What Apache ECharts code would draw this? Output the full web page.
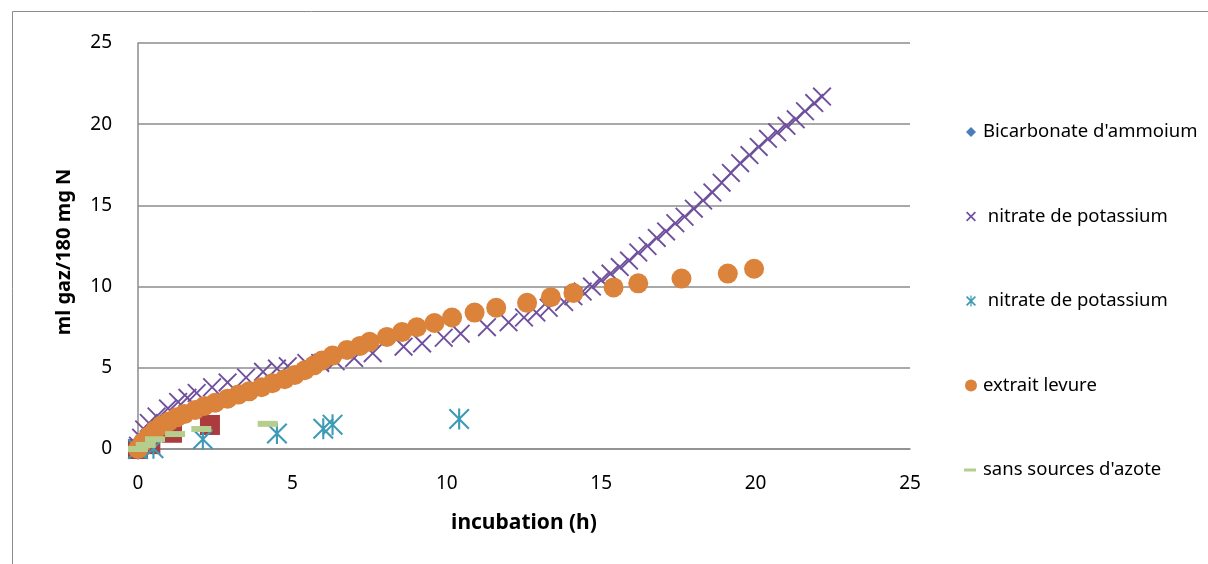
<!DOCTYPE html>
<html>
<head>
<meta charset="utf-8">
<script src="https://cdn.jsdelivr.net/npm/echarts@6/dist/echarts.min.js"></script>
<style>
  html, body { margin: 0; padding: 0; background: #fff; }
  #chart { width: 1208px; height: 564px; }
</style>
</head>
<body>
<div id="chart"></div>
<script>
// [hours, ml gaz] pairs
const bicarbonate = [[0, 0], [0.1, 0.05]];
const redSquares = [[0, 0], [0.4, 0.3], [1.1, 1.0], [2.33, 1.48]];
const nitrate1 = [
  [0, 0.2], [0.1, 0.7], [0.2, 1.2], [0.35, 1.6], [0.6, 2.0], [0.97, 2.5], [1.3, 2.9],
  [1.6, 3.15], [1.9, 3.45], [2.4, 3.8], [2.9, 4.1], [3.5, 4.4], [4.05, 4.75], [4.5, 4.95],
  [4.85, 5.1], [5.45, 5.3], [5.9, 5.3], [6.4, 5.4], [7.0, 5.6], [7.6, 5.9], [8.6, 6.3],
  [9.2, 6.5], [9.9, 6.85], [10.45, 7.1], [11.3, 7.5], [12.0, 7.8], [12.5, 8.1], [12.9, 8.4],
  [13.3, 8.7], [13.8, 9.05], [14.1, 9.4], [14.4, 9.7], [14.7, 10.0], [15.0, 10.4], [15.3, 10.8],
  [15.6, 11.2], [15.9, 11.6], [16.2, 12.1], [16.5, 12.5], [16.8, 13.0], [17.1, 13.4],
  [17.4, 13.9], [17.7, 14.3], [18.0, 14.8], [18.3, 15.3], [18.6, 15.8], [18.9, 16.4],
  [19.2, 17.0], [19.5, 17.6], [19.8, 18.1], [20.1, 18.6], [20.4, 19.1], [20.7, 19.5],
  [21.0, 19.9], [21.3, 20.3], [21.6, 20.8], [21.9, 21.3], [22.15, 21.7]
];
const nitrate2 = [[0, 0], [0.5, 0.05], [2.1, 0.6], [4.5, 0.95], [6.0, 1.25], [6.3, 1.5], [10.4, 1.85]];
const levure = [
  [0, 0], [0.15, 0.4], [0.35, 0.8], [0.55, 1.15], [0.75, 1.45], [1.0, 1.7], [1.25, 1.95],
  [1.5, 2.15], [1.85, 2.4], [2.15, 2.65], [2.5, 2.85], [2.9, 3.1], [3.25, 3.35], [3.6, 3.55],
  [4.0, 3.8], [4.35, 4.05], [4.75, 4.3], [5.08, 4.56], [5.4, 4.85], [5.7, 5.15], [5.96, 5.45],
  [6.3, 5.75], [6.77, 6.1], [7.19, 6.35], [7.5, 6.6], [8.06, 6.9], [8.55, 7.2], [9.03, 7.5],
  [9.6, 7.76], [10.17, 8.1], [10.9, 8.4], [11.6, 8.7], [12.6, 9.0], [13.37, 9.35], [14.1, 9.6],
  [15.4, 9.95], [16.2, 10.2], [17.6, 10.5], [19.1, 10.8], [19.95, 11.1]
];
const sansAzote = [[0, 0], [0.25, 0.25], [0.55, 0.6], [1.2, 0.92], [2.05, 1.23], [4.2, 1.55]];

const xTicks = { min: 0, max: 25, interval: 5 };
const yTicks = { min: 0, max: 25, interval: 5 };

const X_PATH = 'path://M0,7L7,0L50,43L93,0L100,7L57,50L100,93L93,100L50,57L7,100L0,93L43,50Z';
const STAR_PATH = X_PATH + 'M45,0L55,0L55,100L45,100Z';

const gridColor = '#8c8c8c';
const font = 'Noto Sans';

const chart = echarts.init(document.getElementById('chart'));
chart.setOption({
  animation: false,
  backgroundColor: '#fff',
  textStyle: { fontFamily: font, color: '#000' },
  graphic: [{
    type: 'rect',
    shape: { x: 12.5, y: 11.5, width: 1210, height: 600 },
    style: { fill: 'none', stroke: '#8c8c8c', lineWidth: 1 },
    silent: true
  }],
  grid: { left: 138, top: 43, width: 772, height: 406 },
  legend: {
    orient: 'vertical',
    left: 959,
    top: 117,
    itemWidth: 14,
    itemHeight: 14,
    itemGap: 64.5,
    textStyle: { fontFamily: font, fontSize: 18.5, color: '#000', lineHeight: 20 },
    data: [
      { name: "Bicarbonate d'ammoium", icon: 'path://M0,0M14,14M7,2L12,7L7,12L2,7Z' },
      { name: ' nitrate de potassium', icon: 'path://M0,0M14,14M2,3.2L3.2,2L7,5.8L10.8,2L12,3.2L8.2,7L12,10.8L10.8,12L7,8.2L3.2,12L2,10.8L5.8,7Z' },
      { name: '\u00a0nitrate de potassium', icon: 'path://M0,0M14,14M2,3.2L3.2,2L7,5.8L10.8,2L12,3.2L8.2,7L12,10.8L10.8,12L7,8.2L3.2,12L2,10.8L5.8,7ZM6.4,1.5L7.6,1.5L7.6,12.5L6.4,12.5Z' },
      { name: 'extrait levure', icon: 'path://M0,0M14,14M1,7a6,6 0 1,0 12,0a6,6 0 1,0 -12,0Z' },
      { name: "sans sources d'azote", icon: 'path://M0,0M14,14M0,5.5h12v3h-12Z' }
    ]
  },
  xAxis: {
    type: 'value',
    min: xTicks.min, max: xTicks.max, interval: xTicks.interval,
    name: 'incubation (h)',
    nameLocation: 'middle',
    nameGap: 64,
    nameTextStyle: { fontFamily: font, fontSize: 21, fontWeight: 'bold', color: '#000' },
    axisLine: { lineStyle: { color: gridColor, width: 1.5 } },
    axisTick: { show: false },
    axisLabel: { fontFamily: font, fontSize: 19, color: '#000', margin: 25 },
    splitLine: { show: false }
  },
  yAxis: {
    type: 'value',
    min: yTicks.min, max: yTicks.max, interval: yTicks.interval,
    name: 'ml gaz/180 mg N',
    nameLocation: 'middle',
    nameGap: 64,
    nameTextStyle: { fontFamily: font, fontSize: 20, fontWeight: 'bold', color: '#000', padding: [0, 12, 0, 0] },
    axisLine: { show: true, lineStyle: { color: gridColor, width: 1.5 } },
    axisTick: { show: false },
    axisLabel: { fontFamily: font, fontSize: 19, color: '#000', margin: 26 },
    splitLine: { lineStyle: { color: gridColor, width: 1.5 } }
  },
  series: [
    {
      name: "Bicarbonate d'ammoium", type: 'scatter', data: bicarbonate,
      symbol: 'diamond', symbolSize: 12, itemStyle: { color: '#4a7ebb', opacity: 1 }
    },
    {
      name: 'red', type: 'scatter', data: redSquares,
      symbol: 'rect', symbolSize: 20, itemStyle: { color: '#ab3b3d', opacity: 1 }
    },
    {
      name: ' nitrate de potassium', type: 'scatter', data: nitrate1,
      symbol: X_PATH, symbolSize: 19, itemStyle: { color: '#6f509e', opacity: 1 }
    },
    {
      name: '\u00a0nitrate de potassium', type: 'scatter', data: nitrate2,
      symbol: STAR_PATH, symbolSize: 21, itemStyle: { color: '#3d9bb6', opacity: 1 }
    },
    {
      name: 'extrait levure', type: 'scatter', data: levure,
      symbol: 'circle', symbolSize: 20, itemStyle: { color: '#db823b', opacity: 1 }
    },
    {
      name: "sans sources d'azote", type: 'scatter', data: sansAzote,
      symbol: 'rect', symbolSize: [20, 6], itemStyle: { color: '#b5cd8d', opacity: 1 }
    }
  ]
});
</script>
</body>
</html>
